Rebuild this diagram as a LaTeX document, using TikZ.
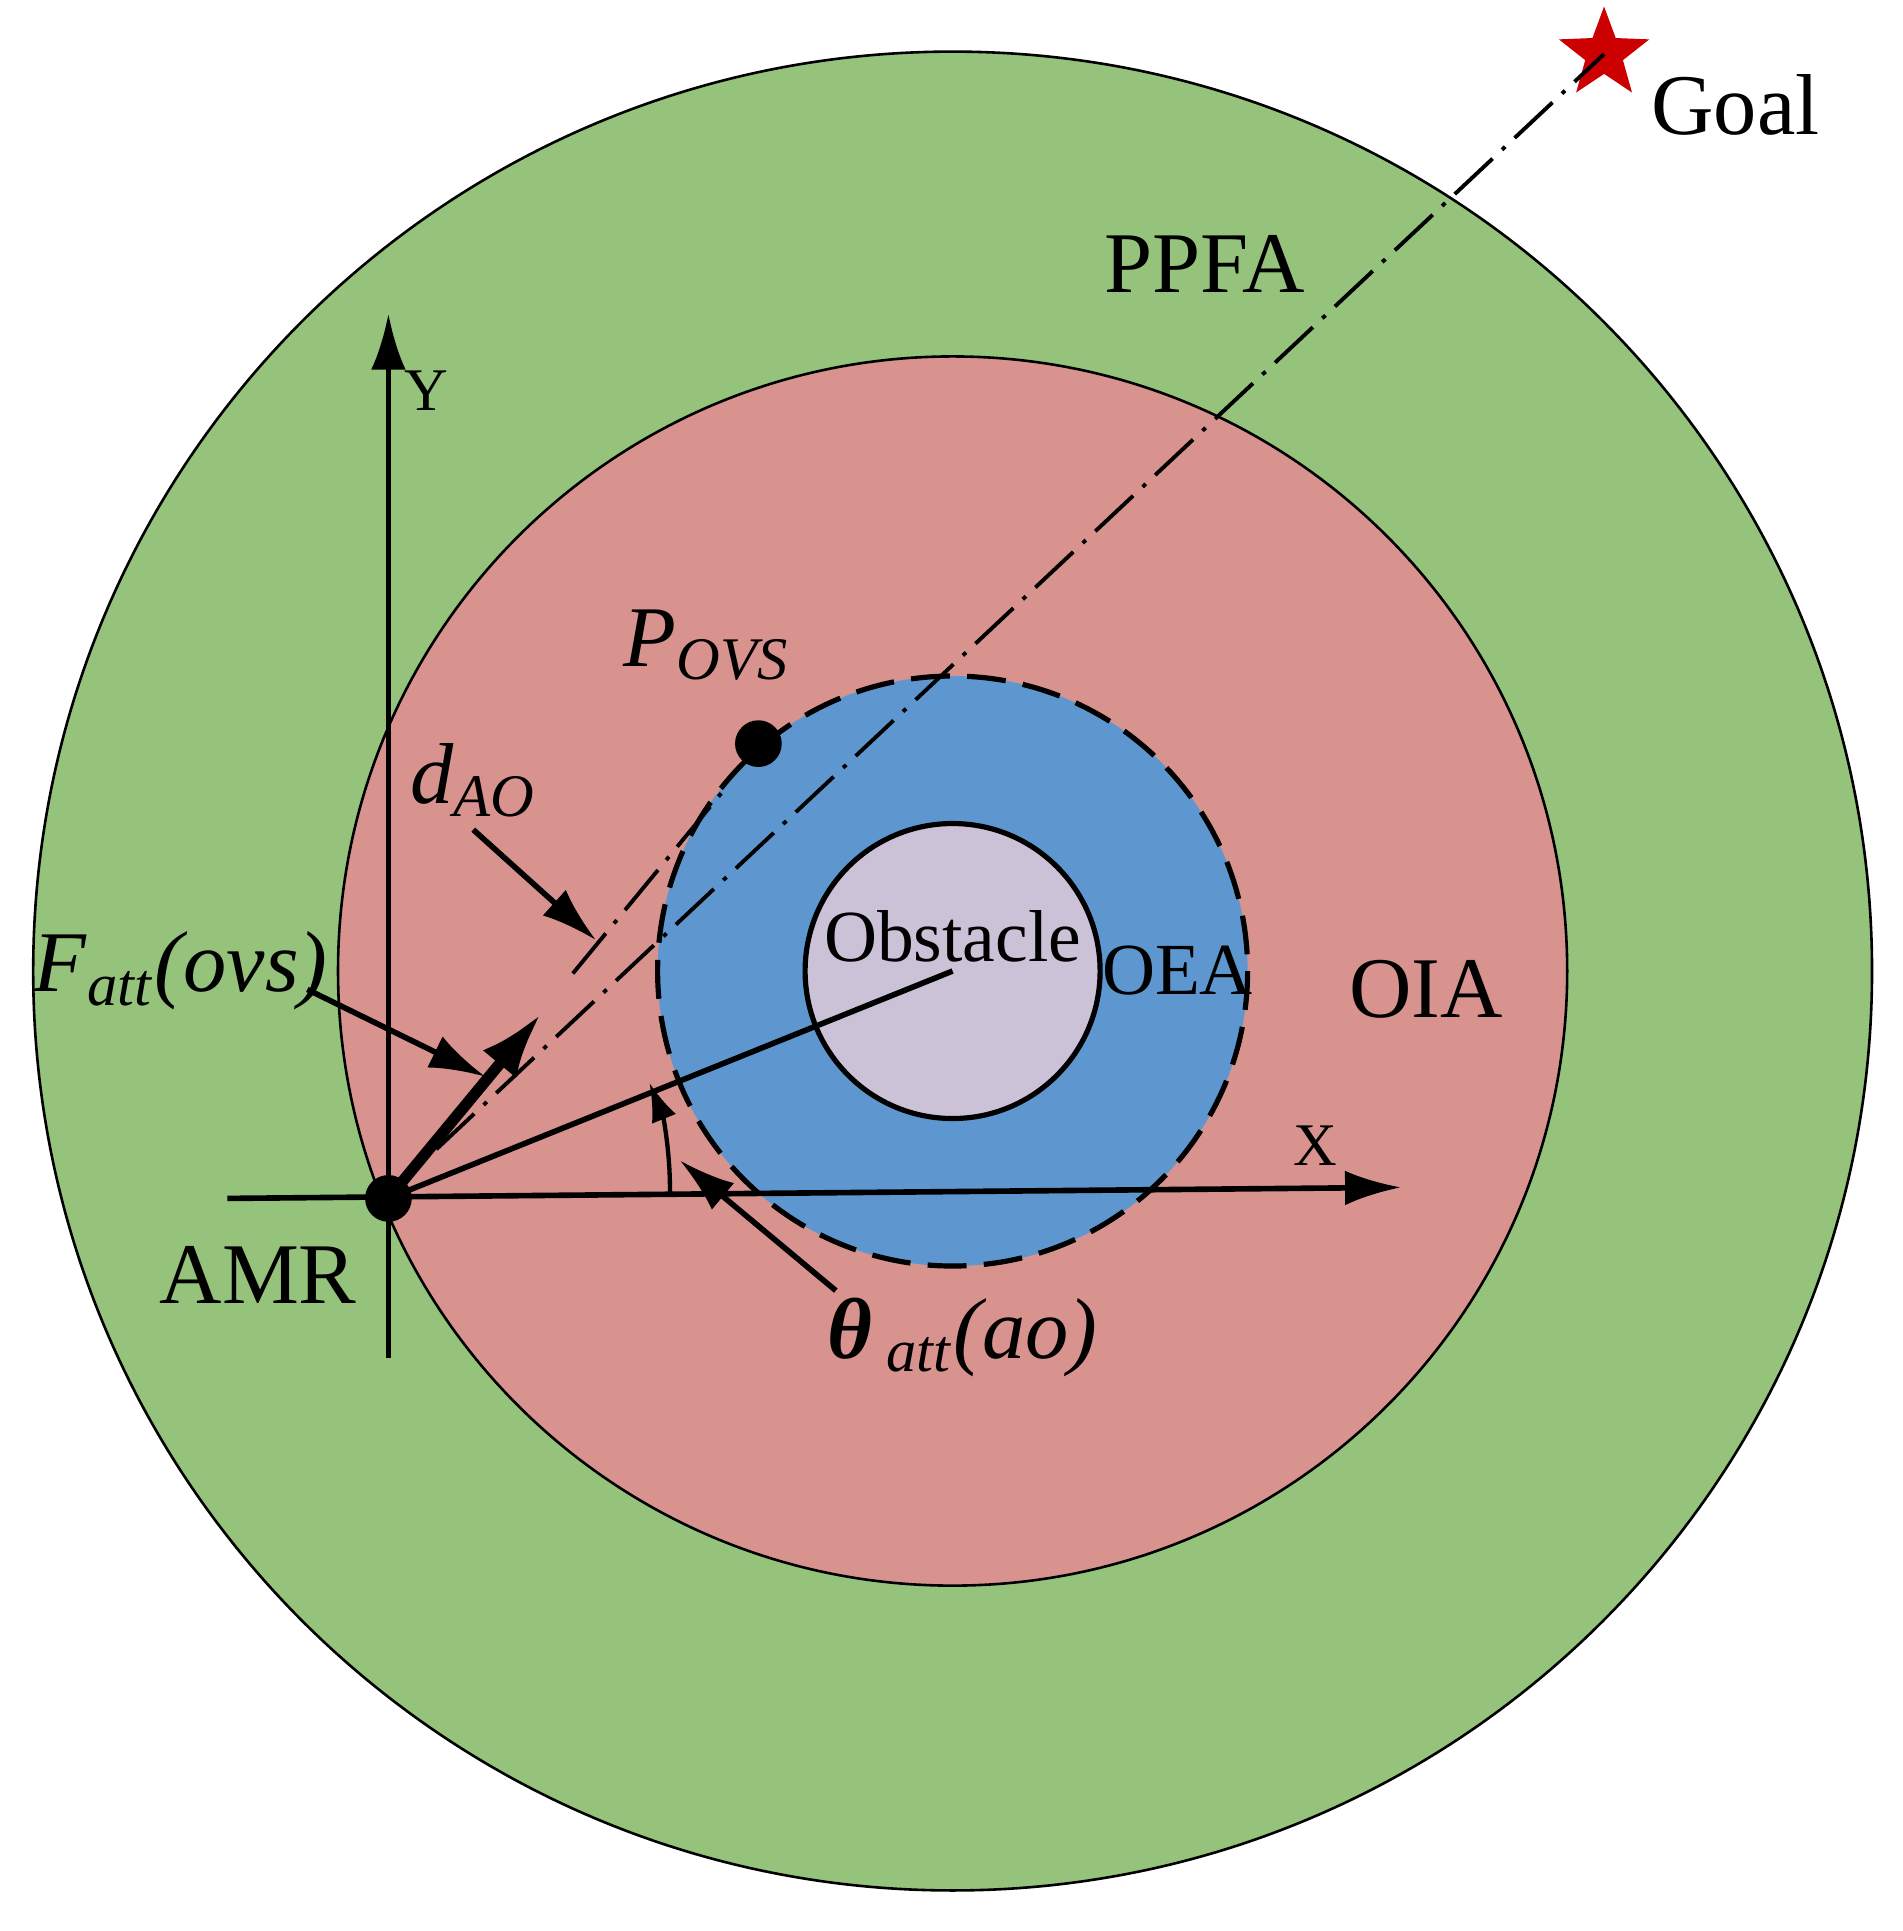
\documentclass[tikz,border=0pt]{standalone}
\usepackage{fontspec}
\setmainfont{Liberation Serif}
\usepackage{tikz}
\usetikzlibrary{arrows.meta,shapes.geometric,calc}
\definecolor{ppfagreen}{RGB}{149,195,123}
\definecolor{oiapink}{RGB}{216,147,143}
\definecolor{oeablue}{RGB}{94,151,208}
\definecolor{obslilac}{RGB}{204,194,216}
\newcommand{\itsub}[2]{\textit{#1}\textsubscript{\textit{#2}}}
\tikzset{
  lbl/.style={font=\fontsize{20}{22}\selectfont},
  axis/.style={line width=1.3pt,-{Latex[length=13pt,width=8pt]}},
  pointer/.style={line width=1.3pt,-{Latex[length=13pt,width=8pt]}},
  dashdot/.style={line width=0.9pt,dash pattern=on 12pt off 3pt on 1pt off 3pt}
}
\begin{document}
\begin{tikzpicture}[x=0.01cm,y=-0.01cm]
  \useasboundingbox (0,0) rectangle (1548,1571);
  % Bereiche
  \coordinate (O) at (775,790);
  \fill[ppfagreen] (O) circle (748);
  \draw[line width=0.6pt] (O) circle (748);
  \fill[oiapink] (O) circle (500);
  \draw[line width=0.6pt] (O) circle (500);
  \fill[oeablue] (O) circle (240);
  \draw[line width=1.2pt,dash pattern=on 9pt off 4pt] (O) circle (240);
  \fill[obslilac] (O) circle (120);
  \draw[line width=1.2pt] (O) circle (120);

  % Achsen
  \coordinate (amr) at (316,975);
  \coordinate (ybot) at (316,1105);
  \coordinate (ytop) at (316,255);
  \coordinate (xleft) at (185,975);
  \coordinate (xright) at (1140,966);
  \draw[axis] (ybot) -- (ytop);
  \draw[axis] (xleft) -- (xright);
  \node[font=\fontsize{14}{16}\selectfont] (ylab) at (347,318) {Y};
  \node[font=\fontsize{14}{16}\selectfont] (xlab) at (1070,932) {X};

  % Linien zum Ziel
  \node[star,star points=5,star point ratio=2.4,fill=red!80!black,minimum size=22pt,inner sep=0pt] (goal) at (1305,44) {};
  \coordinate (ddA) at (466,792);
  \coordinate (ddB) at (592,639);
  \draw[dashdot] (355,935) -- (goal.center);
  \draw[dashdot] (ddA) -- (ddB);
  \draw[line width=1.3pt] (amr) -- (O);
  \draw[line width=2.6pt,-{Latex[length=15pt,width=10pt]}] (amr) -- (440,825);

  % Winkel
  \draw[line width=1pt,-{Latex[length=9pt,width=6pt]}] (545,971) arc[start angle=1,end angle=-22,radius=230] coordinate (arcend);

  % Punkte
  \fill (amr) circle (19);
  \coordinate (povs) at (617,605);
  \fill (povs) circle (19);

  % Beschriftungen
  \node[lbl] (goallab) at (1412,85) {Goal};
  \node[lbl] (ppfa) at (980,215) {PPFA};
  \node[lbl] (oia) at (1160,805) {OIA};
  \node[lbl,font=\fontsize{17}{19}\selectfont] (oea) at (958,790) {OEA};
  \node[lbl,font=\fontsize{17}{19}\selectfont] (obs) at (775,762) {Obstacle};
  \node[lbl] (amrlab) at (210,1037) {AMR};
  \node[lbl] (povslab) at (575,525) {\itsub{P}{OVS}};
  \node[lbl] (dao) at (385,635) {\itsub{d}{AO}};
  \node[lbl] (fatt) at (147,790) {\itsub{F}{att}\textit{(ovs)}};
  \node[lbl] (theta) at (783,1088) {\textbf{\textit{θ}}\,\textsubscript{\textit{att}}\textit{(ao)}};
  \coordinate (daotip) at (485,765);
  \coordinate (fatttip) at (395,876);
  \coordinate (thetatip) at (553,944);
  \draw[pointer] (385,675) -- (daotip);
  \draw[pointer] (250,805) -- (fatttip);
  \draw[pointer] (680,1050) -- (thetatip);
\end{tikzpicture}
\end{document}
